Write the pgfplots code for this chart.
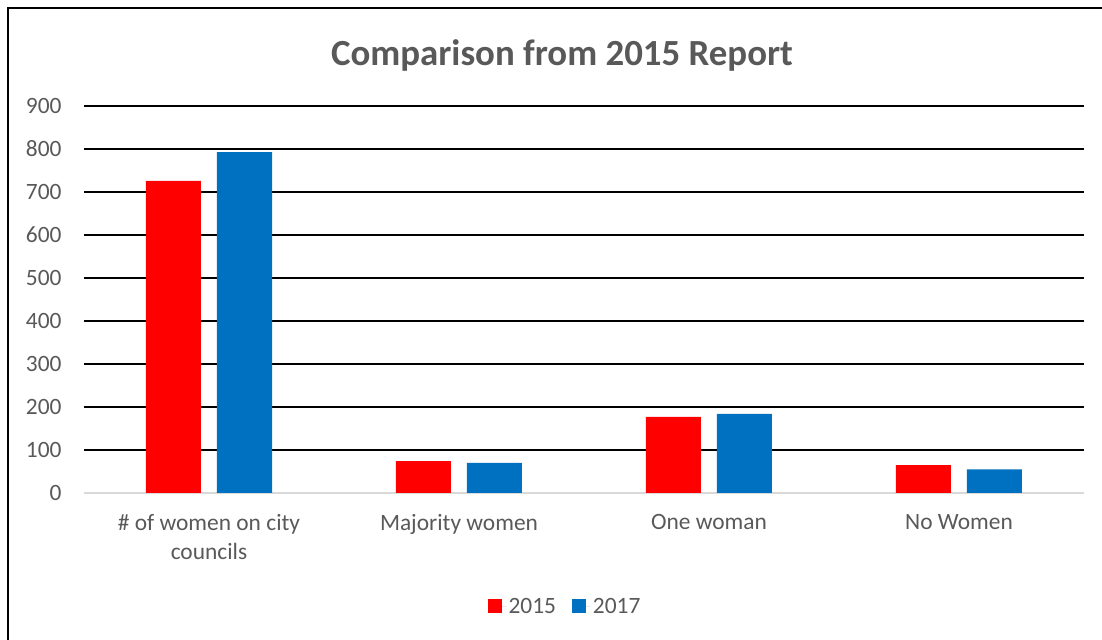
\documentclass[border=0pt]{standalone}
\usepackage{fontspec}
\setmainfont{Carlito}
\usepackage{pgfplots}
\pgfplotsset{compat=1.18}
\definecolor{txtgray}{HTML}{595959}
\definecolor{bar15}{HTML}{FF0000}
\definecolor{bar17}{HTML}{0070C0}
\definecolor{axgray}{HTML}{D9D9D9}
\begin{document}
\begin{tikzpicture}
\useasboundingbox (0bp,0bp) rectangle (1102bp,640bp);
% outer chart frame (right and bottom edges cut off in the original)
\draw[line width=2.2bp,black] (8bp,0bp) -- (8bp,632bp) -- (1102bp,632bp);
\node[font=\fontsize{37}{40}\selectfont\bfseries,text=txtgray] at (562bp,585bp) {Comparison from 2015 Report};
\begin{axis}[
    at={(84bp,147bp)}, anchor=south west,
    scale only axis,
    width=1000bp, height=387bp,
    ymin=0, ymax=900,
    xmin=-0.5, xmax=3.5,
    ytick={100,200,...,900},
    extra y ticks={0},
    extra y tick style={grid=none},
    ymajorgrids,
    major grid style={black, line width=1.7bp},
    axis x line*=bottom,
    axis y line*=left,
    y axis line style={draw=none},
    x axis line style={axgray, line width=1.2bp, -},
    xtick={0,1,2,3},
    xticklabels={{\# of women on city\\councils},{Majority women},{One woman},{No Women}},
    xticklabel style={align=center, text=txtgray, font=\fontsize{23.5}{29}\selectfont, yshift=-18bp},
    yticklabel style={text=txtgray, font=\fontsize{23.5}{26}\selectfont, xshift=-19bp},
    /pgf/number format/assume math mode=true,
    major tick length=0pt,
    ybar, bar width=55bp,
    legend style={at={(0.481,-0.293)}, anchor=center, draw=none, legend columns=2,
        font=\fontsize{23.5}{26}\selectfont, text=txtgray,
        /tikz/every even column/.append style={column sep=14bp}},
    legend image code/.code={\fill[#1] (0bp,-7bp) rectangle (14bp,7bp); \path (14bp,0bp) -- (19bp,0bp);},
]
\addplot[fill=bar15, draw=none, bar shift=-35.5bp] coordinates {(0,726) (1,74) (2,177) (3,65)};
\addplot[fill=bar17, draw=none, bar shift=35.5bp] coordinates {(0,793) (1,70) (2,184) (3,55)};
\legend{2015,2017}
\end{axis}
\end{tikzpicture}
\end{document}
